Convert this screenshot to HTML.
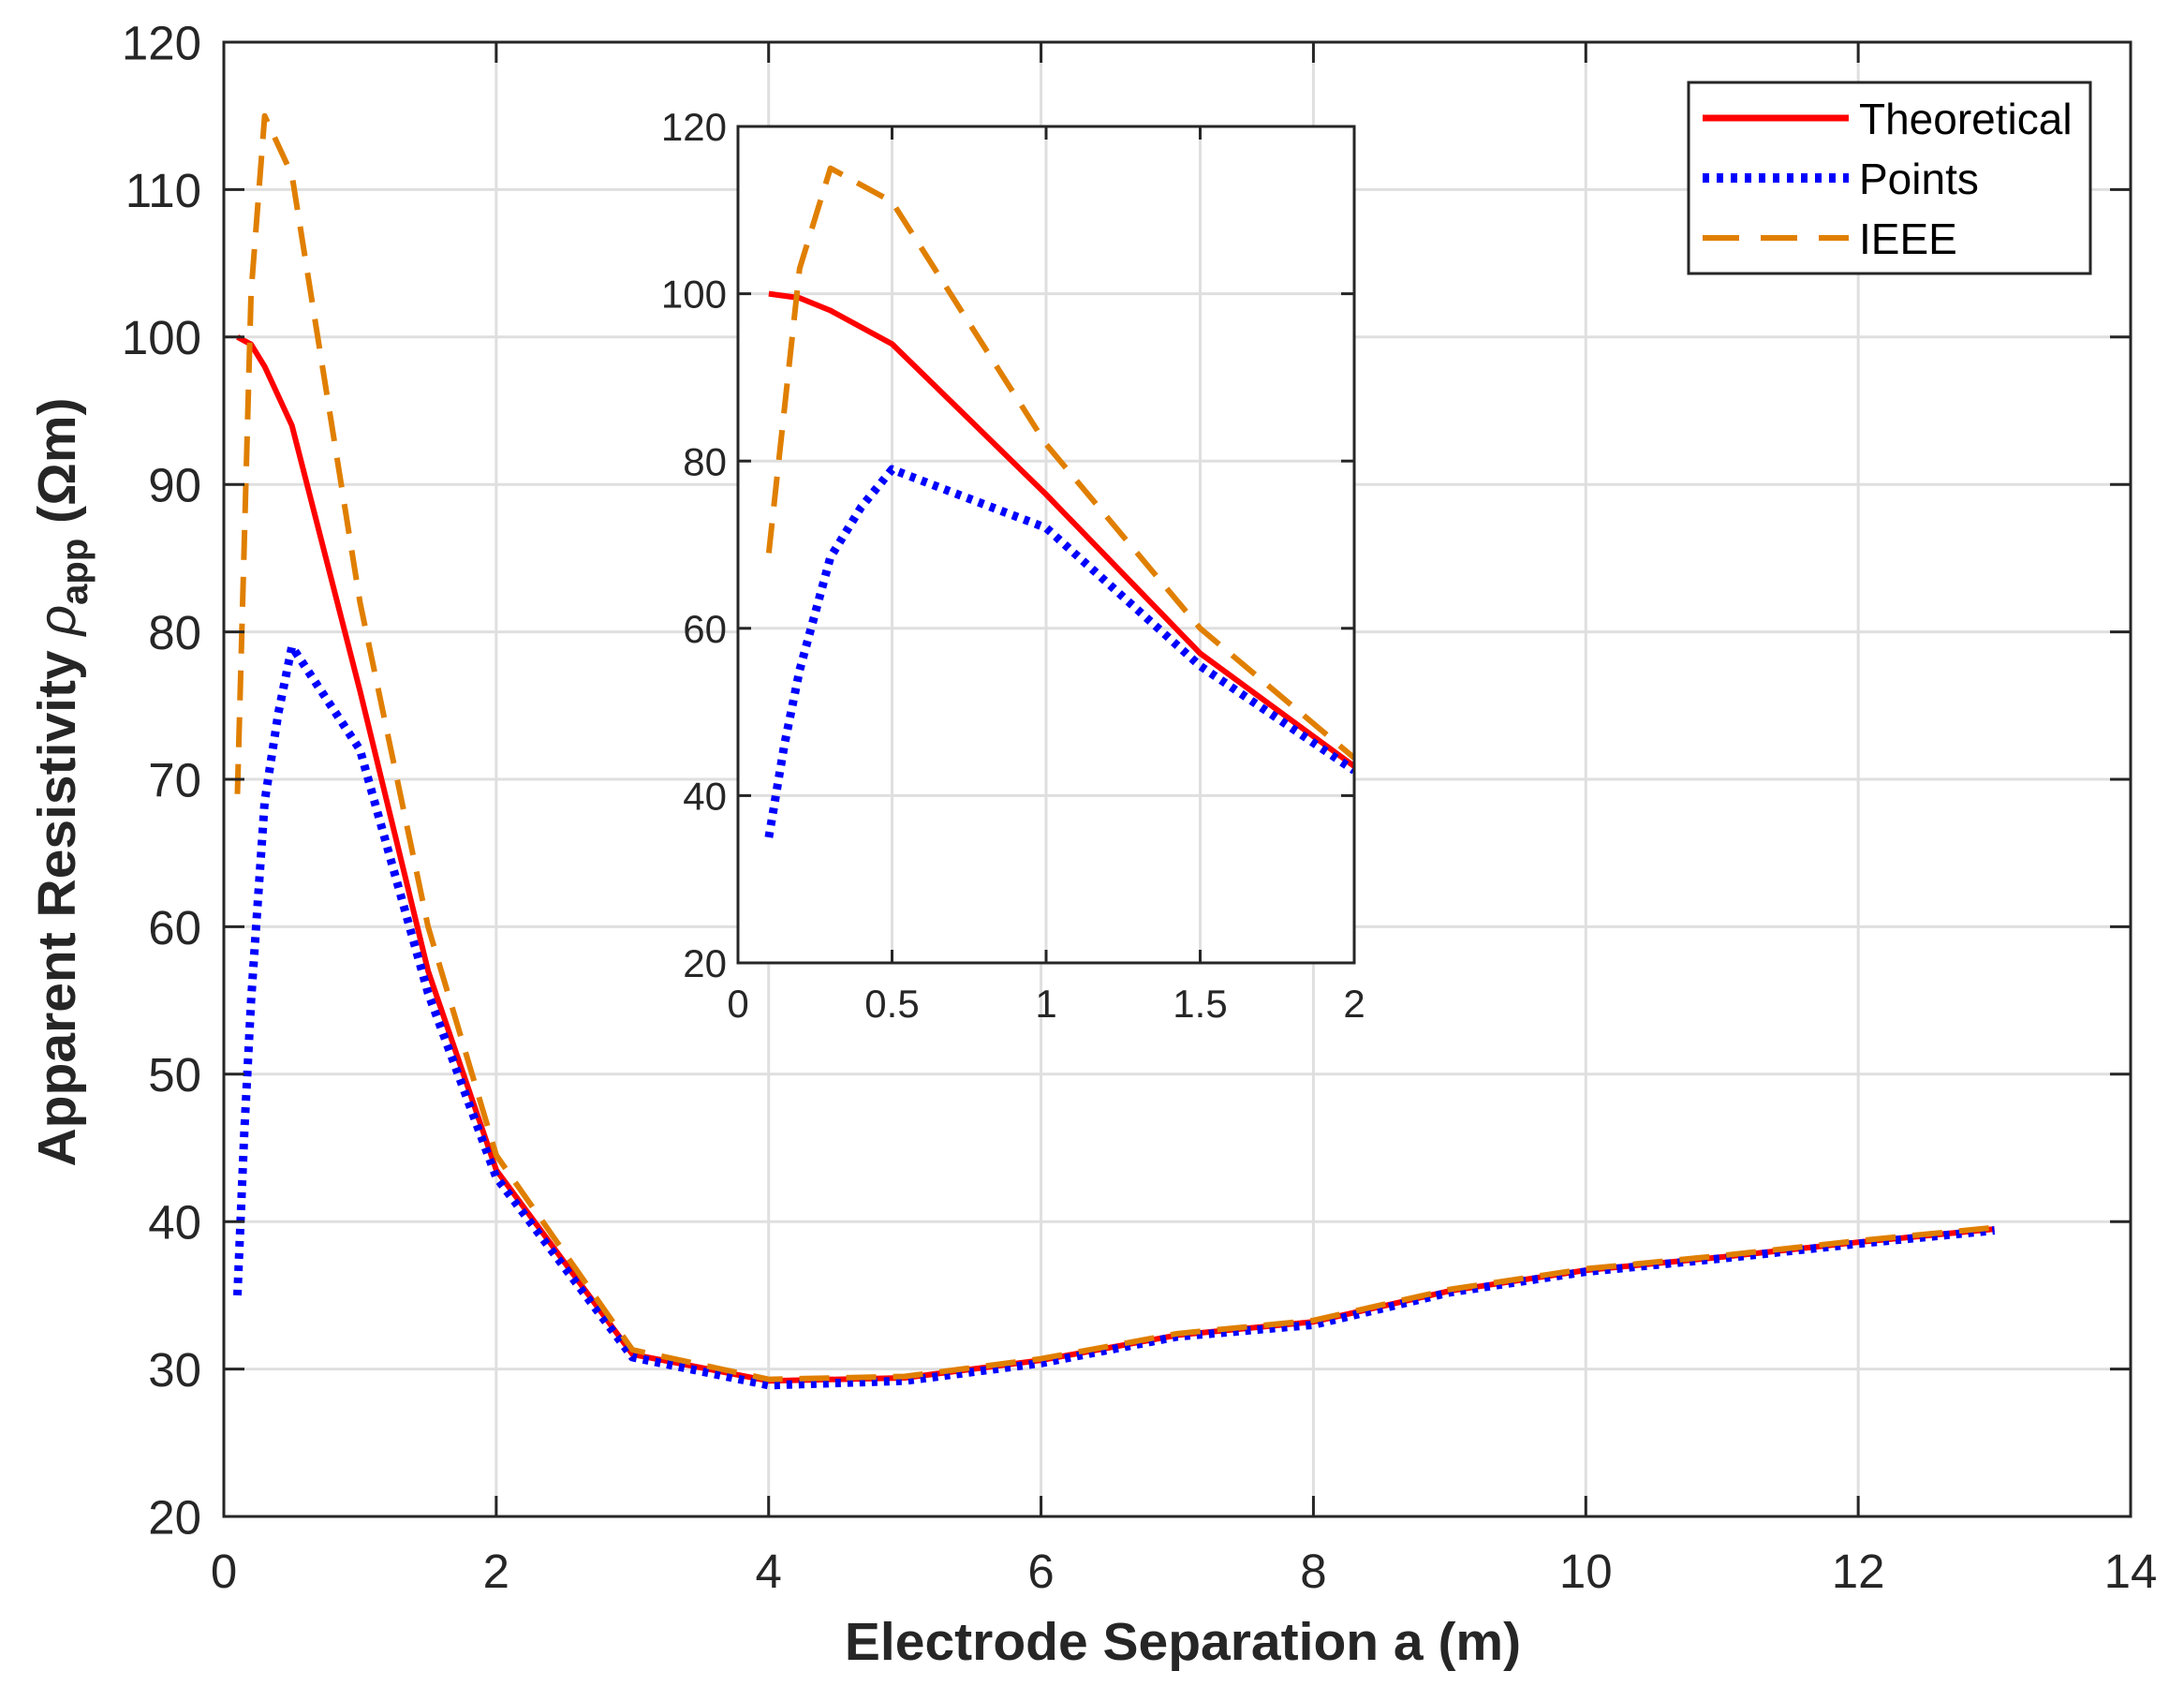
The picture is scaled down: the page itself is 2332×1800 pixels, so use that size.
<!DOCTYPE html>
<html><head><meta charset="utf-8">
<style>
html,body{margin:0;padding:0;background:#fff;}
svg{display:block;font-family:"Liberation Sans",Arial,sans-serif;}
</style></head>
<body>
<svg id="s" width="2332" height="1800" viewBox="0 0 2332 1800" xmlns="http://www.w3.org/2000/svg">
<rect width="2332" height="1800" fill="#fff"/>
<g id="main"></g>
<g id="inset"></g>
<g id="legend">
<rect x="1803" y="88" width="429" height="204" fill="#fff" stroke="#262626" stroke-width="3"/>
<line x1="1818" y1="126" x2="1974" y2="126" stroke="#ff0000" stroke-width="7"/>
<line x1="1818" y1="190" x2="1974" y2="190" stroke="#0000ff" stroke-width="10" stroke-dasharray="7,8"/>
<line x1="1818" y1="254" x2="1974" y2="254" stroke="#e07f00" stroke-width="6" stroke-dasharray="39,23"/>
<text x="1985" y="143" font-size="46" fill="#000">Theoretical</text>
<text x="1985" y="207" font-size="46" fill="#000">Points</text>
<text x="1985" y="271" font-size="46" fill="#000">IEEE</text>
</g>
<text x="1263" y="1772" font-size="57" font-weight="bold" fill="#262626" text-anchor="middle">Electrode Separation a (m)</text>
<text transform="translate(80,835) rotate(-90)" font-size="57" font-weight="bold" fill="#262626" text-anchor="middle">Apparent Resistivity <tspan font-style="italic" font-weight="normal">ρ</tspan><tspan font-size="40" dy="13">app</tspan><tspan dy="-13"> (Ωm)</tspan></text>
</svg>
<script>
var NS="http://www.w3.org/2000/svg";
function el(p,t,a,txt){var e=document.createElementNS(NS,t);for(var k in a)e.setAttribute(k,a[k]);if(txt!==undefined)e.textContent=txt;p.appendChild(e);return e;}
var theo=[[0.1,100],[0.2,99.5],[0.3,98],[0.5,94],[1,76],[1.5,57],[2,43.5],[3,31],[4,29.2],[5,29.4],[6,30.6],[7,32.3],[8,33.2],[9,35.3],[10,36.7],[11,37.6],[12,38.6],[13,39.5]];
var pts=[[0.1,35],[0.15,46],[0.2,55],[0.3,68.5],[0.4,74.5],[0.5,79],[1,72],[1.5,55.5],[2,43],[3,30.8],[4,28.9],[5,29.2],[6,30.4],[7,32.2],[8,33],[9,35.2],[10,36.6],[11,37.5],[12,38.5],[13,39.4]];
var ieee=[[0.1,69],[0.2,103],[0.3,115],[0.5,111],[1,82],[1.5,60],[2,44.5],[3,31.3],[4,29.3],[5,29.5],[6,30.7],[7,32.4],[8,33.3],[9,35.4],[10,36.8],[11,37.7],[12,38.7],[13,39.6]];
function axes(g,L,R,T,B,xmax,xstep,ymin,ymax,ystep,fs,tick,xfmt,xoff,yoff){
  var sx=function(x){return L+(R-L)*x/xmax;}, sy=function(y){return B-(B-T)*(y-ymin)/(ymax-ymin);};
  el(g,"rect",{x:L,y:T,width:R-L,height:B-T,fill:"#fff"});
  for(var x=xstep;x<xmax-1e-9;x+=xstep) el(g,"line",{x1:sx(x),y1:T,x2:sx(x),y2:B,stroke:"#dfdfdf","stroke-width":3});
  for(var y=ymin+ystep;y<ymax-1e-9;y+=ystep) el(g,"line",{x1:L,y1:sy(y),x2:R,y2:sy(y),stroke:"#dfdfdf","stroke-width":3});
  var cid="c"+L; var cp=el(g,"clipPath",{id:cid}); el(cp,"rect",{x:L,y:T,width:R-L,height:B-T});
  var sg=el(g,"g",{"clip-path":"url(#"+cid+")"});
  function path(d,attrs){var s="";d.forEach(function(p,i){if(p[0]>xmax+0.01)return;s+=(i?"L":"M")+sx(p[0]).toFixed(1)+","+sy(p[1]).toFixed(1);});attrs.d=s;attrs.fill="none";attrs["stroke-linejoin"]="round";el(sg,"path",attrs);}
  path(theo,{stroke:"#ff0000","stroke-width":6});
  path(pts,{stroke:"#0000ff","stroke-width":9,"stroke-dasharray":"6,7"});
  path(ieee,{stroke:"#e07f00","stroke-width":6,"stroke-dasharray":"32,18"});
  el(g,"rect",{x:L,y:T,width:R-L,height:B-T,fill:"none",stroke:"#262626","stroke-width":3});
  for(var x=0;x<=xmax+1e-9;x+=xstep){
    el(g,"line",{x1:sx(x),y1:B,x2:sx(x),y2:B-tick,stroke:"#262626","stroke-width":3});
    el(g,"line",{x1:sx(x),y1:T,x2:sx(x),y2:T+tick,stroke:"#262626","stroke-width":3});
    el(g,"text",{x:sx(x),y:B+xoff,"font-size":fs,"text-anchor":"middle",fill:"#262626"},xfmt(x));
  }
  for(var y=ymin;y<=ymax+1e-9;y+=ystep){
    el(g,"line",{x1:L,y1:sy(y),x2:L+tick,y2:sy(y),stroke:"#262626","stroke-width":3});
    el(g,"line",{x1:R,y1:sy(y),x2:R-tick,y2:sy(y),stroke:"#262626","stroke-width":3});
    el(g,"text",{x:L-yoff,y:sy(y)+fs*0.36,"font-size":fs,"text-anchor":"end",fill:"#262626"},String(Math.round(y)));
  }
}
axes(document.getElementById("main"),239,2275,45,1619,14,2,20,120,10,51,22,function(x){return String(Math.round(x));},76,24);
axes(document.getElementById("inset"),788,1446,135,1028,2,0.5,20,120,20,42,14,function(x){return String(Math.round(x*10)/10);},58,12);
</script>
</body></html>
